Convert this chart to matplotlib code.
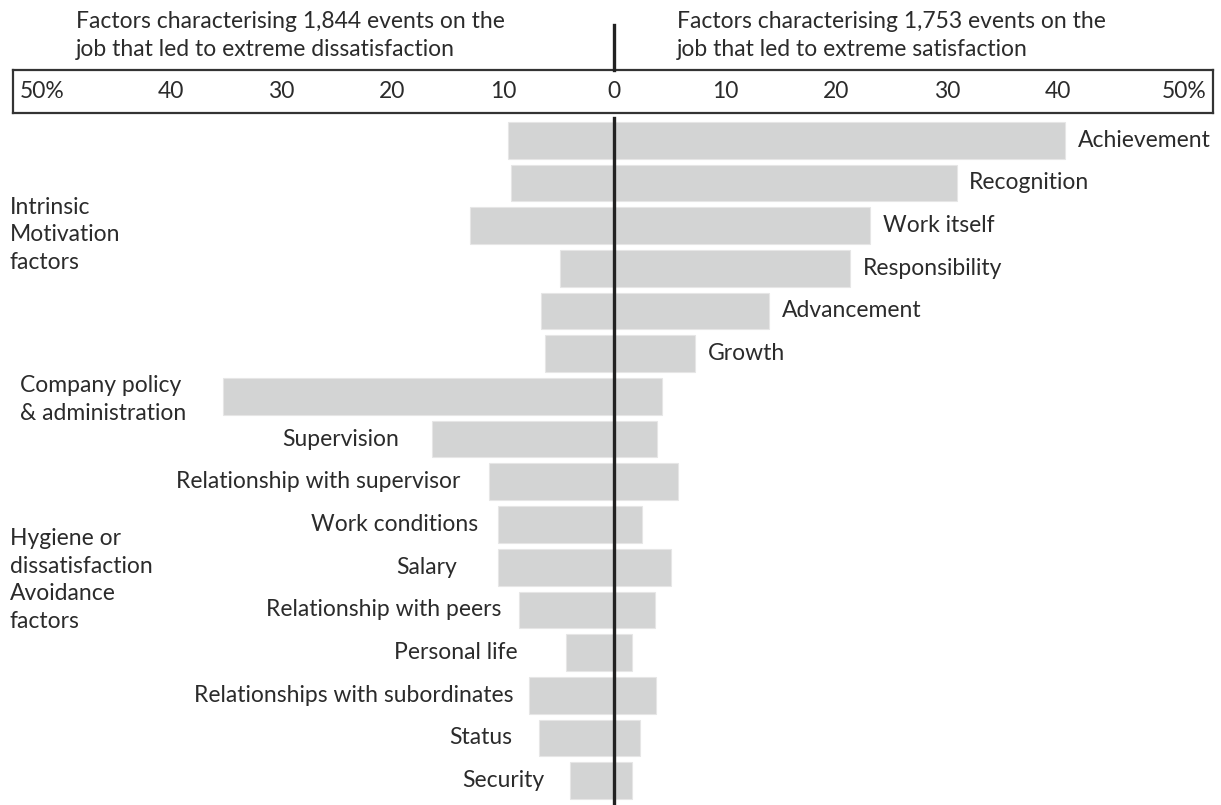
import matplotlib
matplotlib.use("Agg")
import matplotlib.pyplot as plt
import matplotlib.transforms as mtransforms

plt.rcParams['font.family'] = ['Lato', 'DejaVu Sans']

# ---------------- data ----------------
factors = ["Achievement", "Recognition", "Work itself", "Responsibility",
           "Advancement", "Growth", "Company policy\n& administration",
           "Supervision", "Relationship with supervisor", "Work conditions",
           "Salary", "Relationship with peers", "Personal life",
           "Relationships with subordinates", "Status", "Security"]
dissatisfaction = [9.6, 9.3, 13.0, 4.9, 6.6, 6.2, 35.3, 16.4, 11.3, 10.5,
                   10.5, 8.6, 4.3, 7.7, 6.8, 4.0]
satisfaction = [40.7, 30.9, 23.1, 21.3, 14.0, 7.3, 4.3, 3.9, 5.8, 2.5,
                5.1, 3.7, 1.6, 3.8, 2.3, 1.6]
tick_values = [-50, -40, -30, -20, -10, 0, 10, 20, 30, 40, 50]
tick_labels = ["50%", "40", "30", "20", "10", "0", "10", "20", "30", "40", "50%"]
header_left = "Factors characterising 1,844 events on the\njob that led to extreme dissatisfaction"
header_right = "Factors characterising 1,753 events on the\njob that led to extreme satisfaction"
group_intrinsic = "Intrinsic\nMotivation\nfactors"
group_hygiene = "Hygiene or\ndissatisfaction\nAvoidance\nfactors"
n_intrinsic = 6

# ---------------- layout ----------------
W, H = 1221, 805
FS = 16.5
LS = 1.38
TXT = "#2b2b2b"
BAR = "#d3d4d4"
XL = (-54.2, 54.0)
# right edges (data units) of the left-hand labels of hygiene rows
hyg_label_end = [None] * 7 + [-19.4, -13.9, -12.3, -14.2, -10.2, -8.7, -9.1, -9.2, -6.3]

fig = plt.figure(figsize=(W / 100, H / 100), dpi=100)

def fx(px):
    return px / W

def fy(py):
    return 1 - py / H

# main bar axes
ax = fig.add_axes([fx(13), 0, fx(1213) - fx(13), fy(118)])
ax.set_xlim(*XL)
n = len(factors)
ax.set_ylim(n - 0.43, -0.52)
ax.axis("off")

ys = list(range(n))
ax.barh(ys, [-d for d in dissatisfaction], height=0.86, color=BAR,
        edgecolor="#e6e6e6", linewidth=0.8)
ax.barh(ys, satisfaction, height=0.86, color=BAR,
        edgecolor="#e6e6e6", linewidth=0.8)

# axis line through zero
trans = mtransforms.blended_transform_factory(ax.transData, ax.transAxes)
ax.plot([0, 0], [0, 1], color="#222222", lw=2.4, transform=trans,
        clip_on=False, zorder=5)

# labels
for i, name in enumerate(factors):
    if i < n_intrinsic:
        ax.annotate(name, (satisfaction[i], i), xytext=(9, 0),
                    textcoords="offset points", ha="left", va="center",
                    fontsize=FS, color=TXT)
    elif i == n_intrinsic:
        ax.text(XL[0] + 0.65, i + 0.07, name, ha="left", va="center",
                fontsize=FS, color=TXT, linespacing=LS)
    else:
        ax.text(hyg_label_end[i], i, name, ha="right", va="center",
                fontsize=FS, color=TXT)

ax.text(XL[0] - 0.3, 2.22, group_intrinsic, ha="left", va="center",
        fontsize=FS, color=TXT, linespacing=LS)
ax.text(XL[0] - 0.3, 10.3, group_hygiene, ha="left", va="center",
        fontsize=FS, color=TXT, linespacing=LS)

# tick box
bx = fig.add_axes([fx(13), fy(113), fx(1213) - fx(13), fy(70) - fy(113)])
bx.set_xlim(*XL)
bx.set_ylim(0, 1)
bx.set_xticks([])
bx.set_yticks([])
for s in bx.spines.values():
    s.set_linewidth(1.6)
    s.set_color("#333333")
for v, lab in zip(tick_values, tick_labels):
    if v == tick_values[0]:
        bx.text(0.006, 0.5, lab, transform=bx.transAxes, ha="left",
                va="center", fontsize=FS, color=TXT)
    elif v == tick_values[-1]:
        bx.text(0.995, 0.5, lab, transform=bx.transAxes, ha="right",
                va="center", fontsize=FS, color=TXT)
    else:
        bx.text(v, 0.5, lab, ha="center", va="center", fontsize=FS, color=TXT)

# header axes (top strip) with the axis line above the box
hx = fig.add_axes([fx(13), fy(70), fx(1213) - fx(13), fy(0) - fy(70)])
hx.set_xlim(*XL)
hx.set_ylim(0, 1)
hx.axis("off")
hx.plot([0, 0], [0, 0.64], color="#222222", lw=2.4, clip_on=False)
hx.text(-48.5, 0.49, header_left, ha="left", va="center", fontsize=FS,
        color=TXT, linespacing=LS)
hx.text(5.7, 0.49, header_right, ha="left", va="center", fontsize=FS,
        color=TXT, linespacing=LS)

fig.savefig("out.png", dpi=100)
